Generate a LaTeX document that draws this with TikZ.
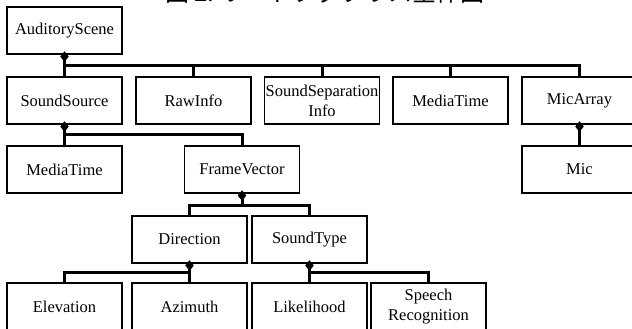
\documentclass[tikz,border=0pt]{standalone}
\usepackage{fontspec}
\setmainfont{Liberation Serif}
\newfontfamily\jpfont{Noto Sans CJK JP}
\usetikzlibrary{shapes.geometric}
\begin{document}
\begin{tikzpicture}[x=1pt,y=-1pt,
  cls/.style={draw, line width=1.1pt, minimum width=115pt, minimum height=47pt, inner sep=0pt, align=center, font=\fontsize{16.5}{20}\selectfont, fill=white},
  conn/.style={line width=3pt},
  dia/.style={diamond, fill=black, minimum width=8pt, minimum height=10pt, inner sep=0pt}]
\useasboundingbox (0,0) rectangle (632,329);
\node[anchor=base west, inner sep=0pt, font=\jpfont\fontsize{24}{24}\selectfont] (title) at (165,1.5) {図 2. ワードタグクラス全体図};
% row 1
\node[cls] (AS) at (64.5,30.5) {AuditoryScene};
% row 2
\node[cls] (SS) at (64.5,100.5) {SoundSource};
\node[cls] (RI) at (193.5,100.5) {RawInfo};
\node[cls] (SSI) at (322,100.5) {SoundSeparation\\Info};
\node[cls] (MT) at (450.5,100.5) {MediaTime};
\node[cls] (MA) at (579.5,100.5) {MicArray};
% row 3
\node[cls] (MT2) at (64.5,169.5) {MediaTime};
\node[cls] (FV) at (242,169.5) {FrameVector};
\node[cls] (Mic) at (579.5,169.5) {Mic};
% row 4
\node[cls] (Dir) at (189.5,239.5) {Direction};
\node[cls] (ST) at (309.5,239.5) {SoundType};
% row 5
\node[cls] (El) at (64.5,306.5) {Elevation};
\node[cls] (Az) at (189.5,306.5) {Azimuth};
\node[cls] (Li) at (309.5,306.5) {Likelihood};
\node[cls] (SR) at (428.5,306.5) {Speech\\Recognition};
% diamonds
\node[dia] (dAS) at ([yshift=-2pt]AS.south) {};
\node[dia] (dSS) at ([yshift=-2pt]SS.south) {};
\node[dia] (dMA) at ([yshift=-2pt]MA.south) {};
\node[dia] (dFV) at ([yshift=-2pt]FV.south) {};
\node[dia] (dDir) at ([yshift=-2pt]Dir.south) {};
\node[dia] (dST) at ([yshift=-2pt]ST.south) {};
% connectors
\foreach \c in {SS,RI,SSI,MT,MA}
  \draw[conn] (dAS.center) |- ([yshift=11pt]\c.north) -- (\c.north);
\foreach \c in {MT2,FV}
  \draw[conn] (dSS.center) |- ([yshift=11pt]\c.north) -- (\c.north);
\draw[conn] (dMA.center) -- (Mic.north);
\foreach \c in {Dir,ST}
  \draw[conn] (dFV.center) |- ([yshift=10pt]\c.north) -- (\c.north);
\foreach \c in {El,Az}
  \draw[conn] (dDir.center) |- ([yshift=10pt]\c.north) -- (\c.north);
\foreach \c in {Li,SR}
  \draw[conn] (dST.center) |- ([yshift=10pt]\c.north) -- (\c.north);
% redraw diamonds on top
\foreach \d in {dAS,dSS,dMA,dFV,dDir,dST}
  \fill (\d.north) -- (\d.east) -- (\d.south) -- (\d.west) -- cycle;
\end{tikzpicture}
\end{document}
